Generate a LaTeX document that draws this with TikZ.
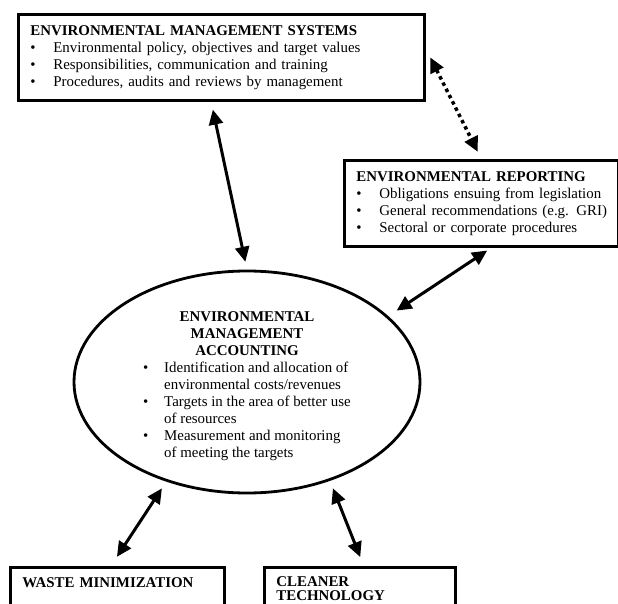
\documentclass[tikz,border=0pt]{standalone}
\usepackage{fontspec}
\setmainfont{Liberation Serif}
\usepackage{tikz}
\usetikzlibrary{shapes,arrows.meta,positioning,calc}
\newcommand{\itembullet}[1][23pt]{\makebox[#1][l]{\textbullet}}

\begin{document}
\begin{tikzpicture}[x=1pt, y=-1pt,
    font=\fontsize{14.9}{17}\selectfont,
    box/.style={draw, line width=2.8pt, anchor=north west, align=left, inner xsep=12pt, inner ysep=0pt},
    link/.style={{Triangle[length=15pt,width=14pt]}-{Triangle[length=15pt,width=14pt]}, line width=3pt}]
    \useasboundingbox (0,0) rectangle (618,604);
    \clip (0,0) rectangle (618,604);

    % Management systems box
    \node[box, text width=382pt, minimum height=86pt] (ems) at (17,13) {%
        {\bfseries ENVIRONMENTAL MANAGEMENT SYSTEMS}\\
        \itembullet Environmental policy, objectives and target values\\
        \itembullet Responsibilities, communication and training\\
        \itembullet Procedures, audits and reviews by management};

    % Reporting box
    \node[box, text width=250pt, minimum height=86pt] (rpt) at (343,159) {%
        \mbox{\bfseries ENVIRONMENTAL REPORTING}\\
        \mbox{\itembullet Obligations ensuing from legislation}\\
        \mbox{\itembullet General recommendations (e.g. GRI)}\\
        \mbox{\itembullet Sectoral or corporate procedures}};

    % Accounting ellipse
    \node[draw, ellipse, line width=2.8pt, minimum width=346pt, minimum height=222pt, inner sep=-12pt] (ema) at (247,382) {%
        \begin{tabular}{@{}l@{}l@{}}
        \multicolumn{2}{@{}c@{}}{\rule{0pt}{21pt}\bfseries ENVIRONMENTAL}\\
        \multicolumn{2}{@{}c@{}}{\bfseries MANAGEMENT}\\
        \multicolumn{2}{@{}c@{}}{\bfseries ACCOUNTING}\\
        \itembullet[21pt] & Identification and allocation of\\
         & environmental costs/revenues\\
        \itembullet[21pt] & Targets in the area of better use\\
         & of resources\\
        \itembullet[21pt] & Measurement and monitoring\\
         & of meeting the targets
        \end{tabular}};

    % Bottom boxes
    \node[box, text width=190pt, inner ysep=10pt, text depth=60pt] (wst) at (9,566) {\bfseries WASTE MINIMIZATION};
    \node[box, text width=167pt, inner ysep=9pt, text depth=60pt] (cln) at (263,566) {\bfseries CLEANER\\[-2.5pt] \bfseries TECHNOLOGY};

    % Arrows
    \draw[link, shorten <=8pt, shorten >=8pt] ($(ems.south west)!0.475!(ems.south east)$) -- (ema.north);
    \draw[link, line width=3.5pt, dash pattern=on 3.5pt off 3.5pt, shorten <=10pt, shorten >=8pt] ($(ems.north east)!0.4!(ems.south east)$) -- (rpt.north);
    \draw[link, shorten <=5pt, shorten >=10pt] ($(rpt.south west)!0.536!(rpt.south east)$) -- (ema.25);
    \draw[link, shorten <=11pt, shorten >=8pt] ($(wst.north west)!0.47!(wst.north east)$) -- (ema.231);
    \draw[link, shorten <=9.6pt, shorten >=8pt] ($(cln.north west)!0.52!(cln.north east)$) -- (ema.310);
\end{tikzpicture}
\end{document}
